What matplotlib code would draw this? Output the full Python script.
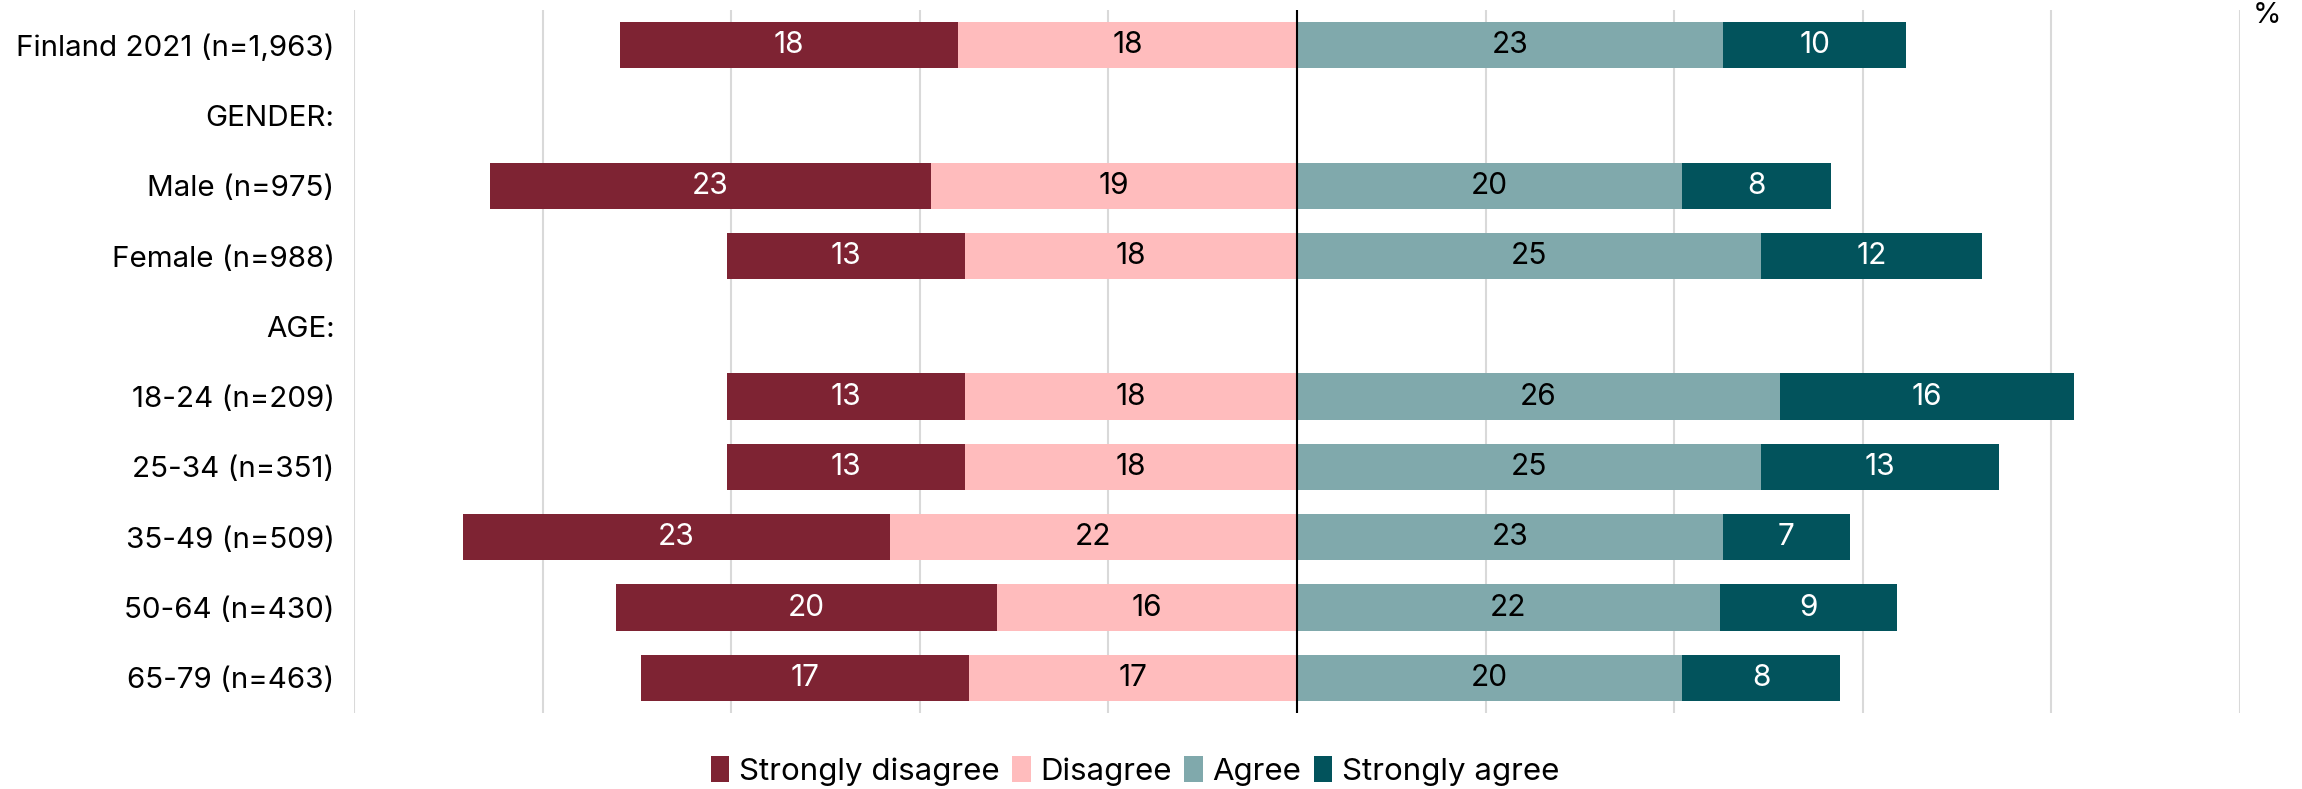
import numpy as np
import matplotlib.pyplot as plt
from matplotlib.patches import Patch

plt.rcParams['font.family'] = ['Inter', 'DejaVu Sans']

# rows from top to bottom; header rows carry no bars
rows = ['Finland 2021 (n=1,963)', 'GENDER:', 'Male (n=975)', 'Female (n=988)', 'AGE:',
        '18-24 (n=209)', '25-34 (n=351)', '35-49 (n=509)', '50-64 (n=430)', '65-79 (n=463)']
groups = ['Finland 2021 (n=1,963)', 'Male (n=975)', 'Female (n=988)',
          '18-24 (n=209)', '25-34 (n=351)', '35-49 (n=509)', '50-64 (n=430)', '65-79 (n=463)']

strongly_disagree = [17.9, 23.4, 12.6, 12.6, 12.6, 22.6, 20.2, 17.4]
disagree = [18.0, 19.4, 17.6, 17.6, 17.6, 21.6, 15.9, 17.4]
agree = [22.6, 20.4, 24.6, 25.6, 24.6, 22.6, 22.4, 20.4]
strongly_agree = [9.7, 7.9, 11.7, 15.6, 12.6, 6.7, 9.4, 8.4]

series = ['Strongly disagree', 'Disagree', 'Agree', 'Strongly agree']
colors = ['#7e2333', '#ffbcbd', '#80a9ac', '#02535c']
text_colors = ['white', 'black', 'black', 'white']

fig = plt.figure(figsize=(23.02, 7.89), dpi=100)
ax = fig.add_axes([0.1538, 0.0963, 0.8193, 0.891])

y = np.array([rows.index(g) for g in groups])
sd = np.array(strongly_disagree)
d = np.array(disagree)
a = np.array(agree)
sa = np.array(strongly_agree)

# negative side stacks outward from zero, positive side likewise
segments = [(-(d + sd), sd), (-d, d), (np.zeros_like(a), a), (a, sa)]
h = 0.66
for (left, width), col, tcol in zip(segments, colors, text_colors):
    ax.barh(y, width, left=left, height=h, color=col, zorder=3)
    for yi, l, w in zip(y, left, width):
        ax.text(l + w / 2, yi, f'{w:.0f}', ha='center', va='center',
                color=tcol, fontsize=21.5, zorder=4)

ax.set_xlim(-50, 50)
ax.set_ylim(len(rows) - 0.5, -0.5)
ax.set_xticks(np.arange(-50, 51, 10))
ax.xaxis.grid(True, color='#d9d9d9', linewidth=1.5, zorder=0)
ax.axvline(0, color='black', linewidth=1.5, zorder=5)
ax.tick_params(axis='x', length=0, labelbottom=False)
ax.set_yticks(range(len(rows)))
ax.set_yticklabels(rows, fontsize=21.3)
ax.tick_params(axis='y', length=0, pad=14)
for s in ax.spines.values():
    s.set_visible(False)

fig.text(0.9785, 0.98, '%', fontsize=21, ha='left', va='center')

handles = [Patch(facecolor=c, label=s) for c, s in zip(colors, series)]
fig.legend(handles=handles, loc='center', bbox_to_anchor=(0.493, 0.023), ncol=4,
           frameon=False, fontsize=22.5, handlelength=0.6, handleheight=0.9,
           handletextpad=0.3, columnspacing=0.4)

fig.savefig('out.png', dpi=100)
